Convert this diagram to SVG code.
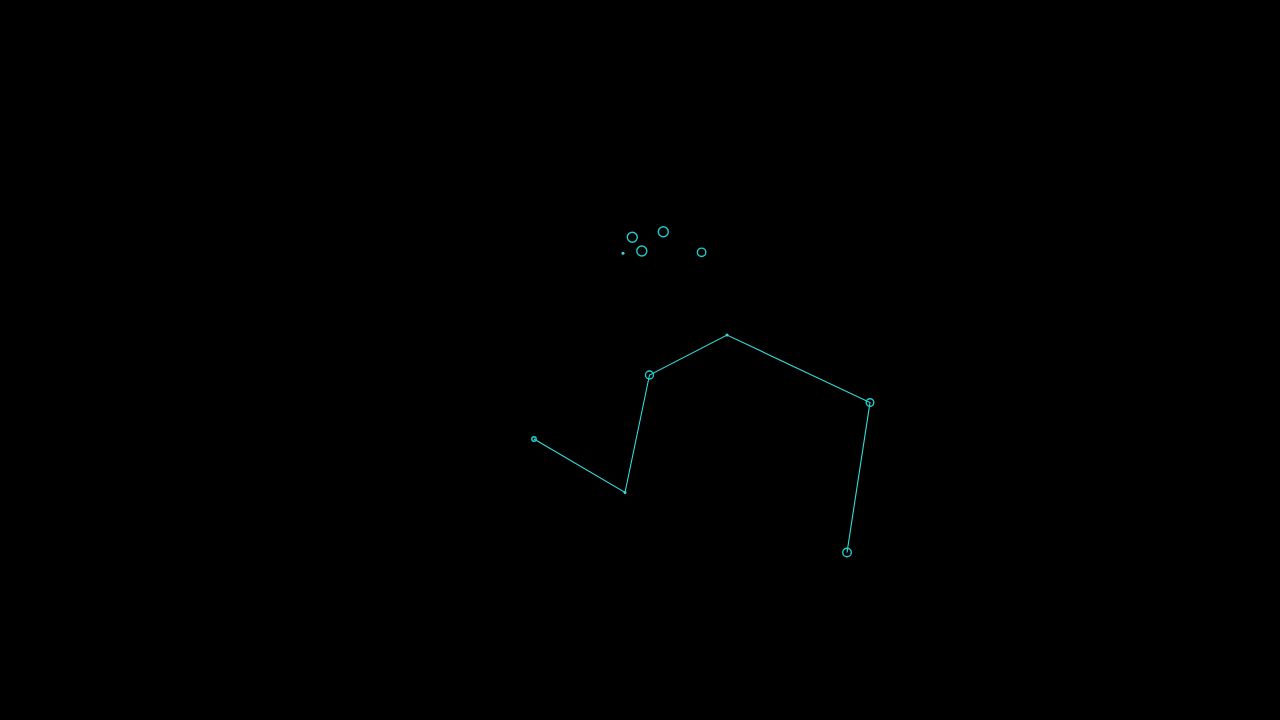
<svg xmlns="http://www.w3.org/2000/svg" width="1280" height="720" viewBox="0 0 1280 720">
<style>
.bg{fill:#000}
.ln{fill:none;stroke:#33dddd;stroke-width:1.1}
.st{fill:none;stroke:#22cccc;stroke-width:1.4}
.dt{fill:#33dddd}
</style>
<rect class="bg" width="1280" height="720"/>
<g id="connectors">
<polyline class="ln" points="534,439 625,492.5 649.5,375 727,335 870,402.5 847,552.5"/>
</g>
<g id="star-a"><circle class="st" cx="632.3" cy="237.3" r="5"/></g>
<g id="star-b"><circle class="st" cx="663.3" cy="231.8" r="5"/></g>
<g id="star-c"><circle class="st" cx="641.8" cy="251" r="5"/></g>
<g id="star-d"><circle class="st" cx="701.6" cy="252.3" r="4.2"/></g>
<g id="star-e"><circle class="dt" cx="623" cy="253.3" r="1.5"/></g>
<g id="star-1"><circle class="st" cx="534" cy="439" r="2.2"/></g>
<g id="star-2"><circle class="dt" cx="625" cy="492.5" r="1.5"/></g>
<g id="star-3"><circle class="st" cx="649.5" cy="375" r="4"/></g>
<g id="star-4"><circle class="dt" cx="727" cy="335" r="1.5"/></g>
<g id="star-5"><circle class="st" cx="870" cy="402.5" r="3.8"/></g>
<g id="star-6"><circle class="st" cx="847" cy="552.5" r="4.3"/></g>
</svg>
